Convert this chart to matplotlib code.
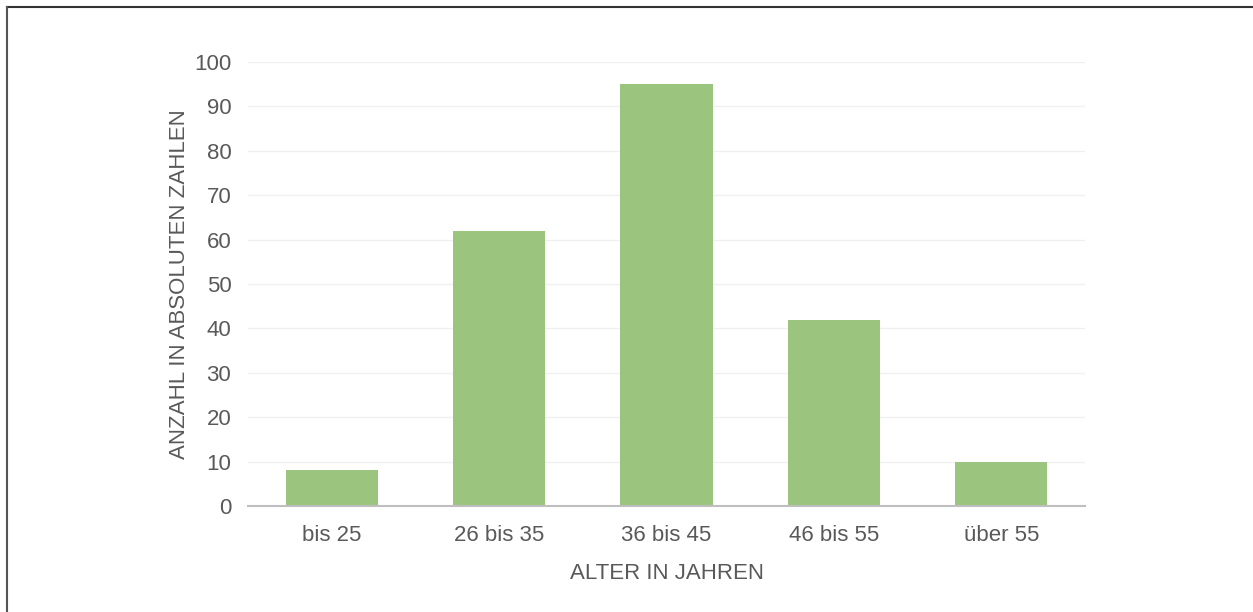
import matplotlib.pyplot as plt
from matplotlib.lines import Line2D

categories = ['bis 25', '26 bis 35', '36 bis 45', '46 bis 55', 'über 55']
values = [8, 62, 95, 42, 10]
yticks = [0, 10, 20, 30, 40, 50, 60, 70, 80, 90, 100]

plt.rcParams['font.family'] = ['Liberation Sans', 'DejaVu Sans']
textcol = '#595959'

fig = plt.figure(figsize=(12.53, 6.12), dpi=100)
ax = fig.add_axes([248/1253, 1-506/612, (1085-248)/1253, (506-62)/612])

ax.bar(range(len(categories)), values, width=0.55, color='#9bc57e', zorder=2)
ax.set_xlim(-0.5, len(categories)-0.5)
ax.set_ylim(0, 100)
ax.set_yticks(yticks)
ax.set_xticks(range(len(categories)))
ax.set_xticklabels(categories)
ax.grid(axis='y', color='#f0f0f0', linewidth=1, zorder=0)
ax.tick_params(length=0, labelsize=16, labelcolor=textcol)
ax.tick_params(axis='y', pad=12)
ax.tick_params(axis='x', pad=14)
for s in ['top', 'right', 'left']:
    ax.spines[s].set_visible(False)
ax.spines['bottom'].set_color('#bfbfbf')
ax.spines['bottom'].set_linewidth(1.5)
ax.spines['bottom'].set_zorder(3)

ax.set_xlabel('ALTER IN JAHREN', fontsize=16, color=textcol, labelpad=12)
ax.set_ylabel('ANZAHL IN ABSOLUTEN ZAHLEN', fontsize=16, color=textcol, labelpad=3)

# frame lines at top and left of the picture
fig.add_artist(Line2D([7/1253, 1], [1-7/612, 1-7/612], color='#333333', lw=1.5))
fig.add_artist(Line2D([7/1253, 7/1253], [0, 1-7/612], color='#555555', lw=1.5))

fig.savefig('out.png', dpi=100)
